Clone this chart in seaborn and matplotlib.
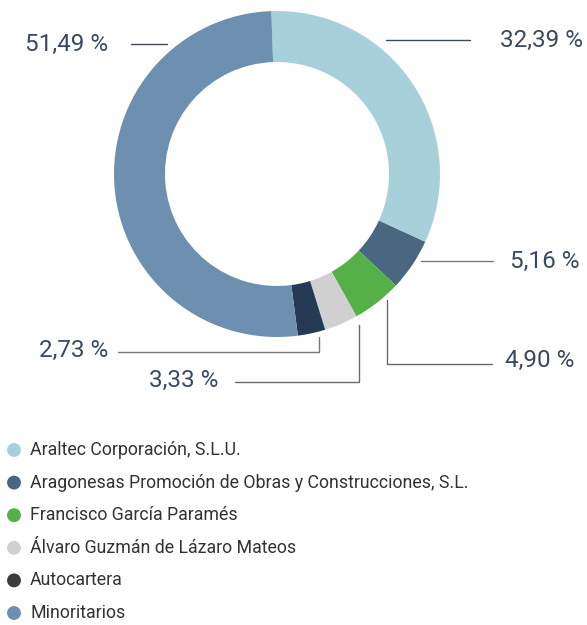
import matplotlib.pyplot as plt
import seaborn as sns

# Accionistas y participación (%)
accionistas = [
    "Araltec Corporación, S.L.U.",
    "Aragonesas Promoción de Obras y Construcciones, S.L.",
    "Francisco García Paramés",
    "Álvaro Guzmán de Lázaro Mateos",
    "Autocartera",
    "Minoritarios",
]
participacion = [32.39, 5.16, 4.90, 3.33, 2.73, 51.49]
colores = ["#a8d0da", "#4a6782", "#55b047", "#d0d0d0", "#263a55", "#6d8fb0"]
colores_leyenda = ["#a8d0da", "#4a6782", "#55b047", "#d0d0d0", "#3c3c3c", "#6d8fb0"]

W, H = 587, 625
sns.set_theme(style="white")
plt.rcParams["font.family"] = ["Roboto", "DejaVu Sans"]

fig = plt.figure(figsize=(W / 100, H / 100), dpi=100)
ax = fig.add_axes([0, 0, 1, 1])


def py(y):
    # coordenadas en píxeles (origen arriba) -> datos
    return H - y


# donut
cx, cy, r = 277, 174, 163
ax.pie(participacion, colors=colores, startangle=92, counterclock=False,
       center=(cx, py(cy)), radius=r,
       wedgeprops=dict(width=51, linewidth=0))
ax.set_xlim(0, W)
ax.set_ylim(0, H)
ax.set_aspect("equal")
ax.axis("off")

# etiquetas con líneas guía (posiciones de maquetación)
txt_color = "#3a4a62"
guias = [
    ([(386, 40), (470, 40)], (500, 40), "left", "#3d4a5c"),
    ([(421, 261), (493, 261)], (510, 261), "left", "#7a7a7a"),
    ([(387, 300), (387, 364), (492, 364)], (505, 360), "left", "#6a6a6a"),
    ([(359, 325), (359, 382), (235, 382)], (218, 380), "right", "#6a6a6a"),
    ([(319, 337), (319, 352), (118, 352)], (108, 350), "right", "#7a7a7a"),
    ([(131, 44), (167, 44)], (108, 44), "right", "#3d4a5c"),
]
for valor, (pts, (tx, ty), ha, lc) in zip(participacion, guias):
    ax.plot([p[0] for p in pts], [py(p[1]) for p in pts], color=lc, lw=1.0,
            solid_joinstyle="miter")
    etiqueta = f"{valor:.2f}".replace(".", ",") + " %"
    ax.text(tx, py(ty), etiqueta, ha=ha, va="center", fontsize=17.5,
            color=txt_color, fontweight="normal")

# leyenda
y0, paso = 450, 32.6
ys = [py(y0 + i * paso) for i in range(len(accionistas))]
sns.scatterplot(x=[14] * len(accionistas), y=ys, hue=accionistas,
                palette=colores_leyenda, s=100, linewidth=0, legend=False, ax=ax)
for nombre, y in zip(accionistas, ys):
    ax.text(30, y, nombre, ha="left", va="center", fontsize=12.75, color="#333333")
ax.set_xlim(0, W)
ax.set_ylim(0, H)

fig.savefig("out.png", dpi=100)
